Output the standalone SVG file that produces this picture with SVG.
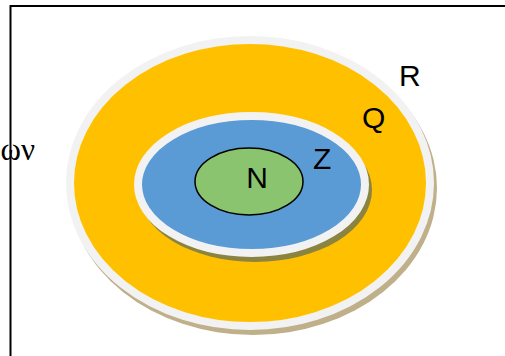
<svg xmlns="http://www.w3.org/2000/svg" width="505" height="356" viewBox="0 0 505 356">
<style>
.lbl{font-family:"Liberation Sans",Arial,sans-serif;font-size:30px;fill:#000}
.ring{stroke:#f2f2f2;stroke-width:8}
</style>
<rect x="0" y="0" width="505" height="356" fill="#fff"/>
<text x="35" y="160" text-anchor="end" style="font-family:'Liberation Serif','Times New Roman',serif;font-size:31px">ων</text>
<rect x="10.5" y="6" width="520" height="380" fill="none" stroke="#000" stroke-width="2"/>
<g id="R">
<ellipse cx="253" cy="188" rx="184" ry="147" fill="#bfb08a"/>
<ellipse class="ring" cx="250" cy="183" rx="180" ry="143" fill="#ffc000"/>
<text class="lbl" x="399" y="86">R</text>
</g>
<g id="Q">
<text class="lbl" x="362" y="128">Q</text>
</g>
<g id="Z">
<ellipse cx="255" cy="190" rx="117" ry="72" fill="#8a8440"/>
<ellipse class="ring" cx="251.5" cy="184.5" rx="113.5" ry="68.5" fill="#5b9bd5"/>
<text class="lbl" x="313" y="169">Z</text>
</g>
<g id="N">
<ellipse cx="249" cy="181.5" rx="54" ry="33.5" fill="#8bc46e" stroke="#000" stroke-width="1.5"/>
<text class="lbl" x="257" y="188" text-anchor="middle">N</text>
</g>
<g id="connectors"></g>
</svg>
